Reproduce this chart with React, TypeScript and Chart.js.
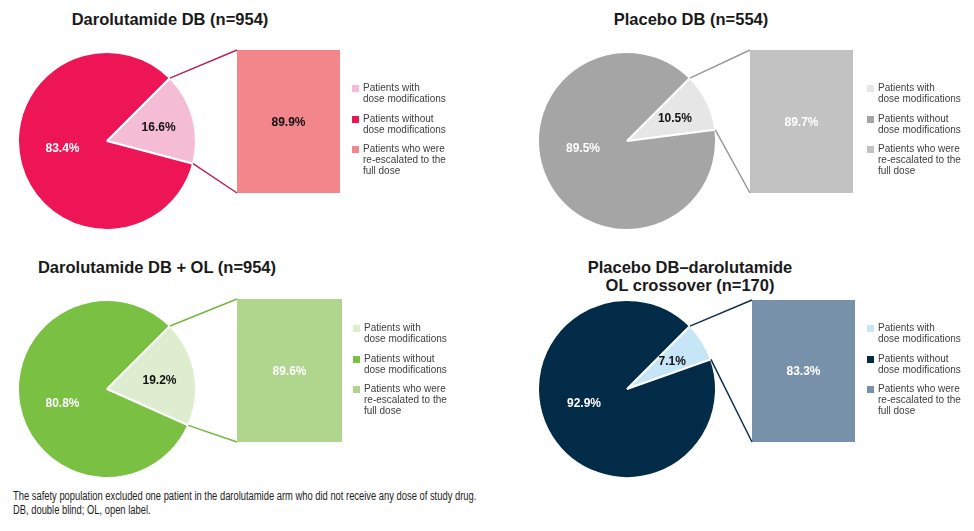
import React, { useEffect, useRef } from "react";
import { Chart, registerables } from "chart.js";

Chart.register(...registerables);

// ---------------- data ----------------
const panelTitles = [
  "Darolutamide DB (n=954)",
  "Placebo DB (n=554)",
  "Darolutamide DB + OL (n=954)",
  "Placebo DB\u2013darolutamide\nOL crossover (n=170)",
];
const withModifications = [16.6, 10.5, 19.2, 7.1];
const withoutModifications = [83.4, 89.5, 80.8, 92.9];
const reEscalated = [89.9, 89.7, 89.6, 83.3];
const legendLabels = [
  ["Patients with", "dose modifications"],
  ["Patients without", "dose modifications"],
  ["Patients who were", "re-escalated to the", "full dose"],
];
const footnotes = [
  "The safety population excluded one patient in the darolutamide arm who did not receive any dose of study drug.",
  "DB, double blind; OL, open label.",
];

// ---------------- styles ----------------
const palettes = [
  { main: "#EE1556", slice: "#F5BDD5", bar: "#F3868A", line: "#B82359", barText: "#111111" },
  { main: "#A5A5A5", slice: "#E6E6E6", bar: "#C2C2C2", line: "#9A9A9A", barText: "#FFFFFF" },
  { main: "#7AC143", slice: "#DEEDCF", bar: "#AFD68C", line: "#72B83F", barText: "#FFFFFF" },
  { main: "#012B47", slice: "#C6E6F7", bar: "#7891AB", line: "#0D3050", barText: "#FFFFFF" },
];

const layouts = [
  { cx: 107, cy: 141, barL: 237, barR: 340, barT: 50, barB: 193, legX: 352, legTop: 82, titleX: 170, titleTop: 10, mainOff: [-44.5, 11] },
  { cx: 627, cy: 141, barL: 750, barR: 853, barT: 50, barB: 193, legX: 867, legTop: 82, titleX: 691, titleTop: 10, mainOff: [-44, 11] },
  { cx: 107, cy: 389, barL: 237, barR: 342, barT: 299, barB: 442, legX: 353, legTop: 322, titleX: 157, titleTop: 258, mainOff: [-44.5, 18] },
  { cx: 627, cy: 389, barL: 752, barR: 855, barT: 300, barB: 442, legX: 867, legTop: 322, titleX: 690, titleTop: 258, mainOff: [-43, 18] },
];

const FONT = '"Liberation Sans", Arial, Helvetica, sans-serif';
const PIE_SIZE = 180;

function Panel({ i }: { i: number }) {
  const pieRef = useRef<HTMLCanvasElement | null>(null);
  const barRef = useRef<HTMLCanvasElement | null>(null);
  const L = layouts[i];
  const P = palettes[i];

  useEffect(() => {
    const pieLabels = {
      id: "pieLabels",
      afterDatasetsDraw(chart: any) {
        const ctx = chart.ctx;
        const meta = chart.getDatasetMeta(0);
        const s = meta.data[0];
        const m = meta.data[1];
        ctx.save();
        ctx.font = `bold 12px ${FONT}`;
        ctx.textAlign = "center";
        ctx.textBaseline = "alphabetic";
        const mid = (s.startAngle + s.endAngle) / 2;
        const r = s.outerRadius * 0.6;
        ctx.fillStyle = "#111111";
        ctx.fillText(
          `${withModifications[i].toFixed(1)}%`,
          s.x + Math.cos(mid) * r,
          s.y + Math.sin(mid) * r + 4.3
        );
        ctx.fillStyle = "#FFFFFF";
        ctx.fillText(`${withoutModifications[i].toFixed(1)}%`, m.x + L.mainOff[0], m.y + L.mainOff[1]);
        ctx.restore();
      },
    };

    const pie = new Chart(pieRef.current as HTMLCanvasElement, {
      type: "pie",
      data: {
        labels: [legendLabels[0].join(" "), legendLabels[1].join(" ")],
        datasets: [
          {
            data: [withModifications[i], withoutModifications[i]],
            backgroundColor: [P.slice, P.main],
            borderColor: "#FFFFFF",
            borderWidth: 2,
          },
        ],
      },
      options: {
        responsive: false,
        animation: false,
        rotation: 45,
        events: [],
        layout: { padding: 0 },
        plugins: { legend: { display: false }, tooltip: { enabled: false } },
      },
      plugins: [pieLabels],
    } as any);

    const pad = 2;
    const connectors = {
      id: "connectors",
      afterDatasetsDraw(chart: any) {
        const ctx = chart.ctx;
        const a = pie.getDatasetMeta(0).data[0] as any;
        const b = chart.getDatasetMeta(0).data[0] as any;
        // pie canvas origin -> bar canvas origin
        const ox = L.cx - PIE_SIZE / 2 - L.cx;
        const oy = L.cy - PIE_SIZE / 2 - (L.barT - pad);
        const R = a.outerRadius;
        const p1 = [a.x + Math.cos(a.startAngle) * R + ox, a.y + Math.sin(a.startAngle) * R + oy];
        const p2 = [a.x + Math.cos(a.endAngle) * R + ox, a.y + Math.sin(a.endAngle) * R + oy];
        const left = b.x - b.width / 2;
        const top = Math.min(b.y, b.base);
        const bottom = Math.max(b.y, b.base);
        ctx.save();
        ctx.strokeStyle = P.line;
        ctx.lineWidth = 1.5;
        ctx.beginPath();
        ctx.moveTo(p1[0], p1[1]);
        ctx.lineTo(left, top);
        ctx.moveTo(p2[0], p2[1]);
        ctx.lineTo(left, bottom);
        ctx.stroke();
        ctx.font = `bold 12px ${FONT}`;
        ctx.textAlign = "center";
        ctx.textBaseline = "alphabetic";
        ctx.fillStyle = P.barText;
        ctx.fillText(`${reEscalated[i].toFixed(1)}%`, b.x, (top + bottom) / 2 + 4.3);
        ctx.restore();
      },
    };

    const bar = new Chart(barRef.current as HTMLCanvasElement, {
      type: "bar",
      data: {
        labels: [legendLabels[2].join(" ")],
        datasets: [
          {
            data: [reEscalated[i]],
            backgroundColor: P.bar,
            borderWidth: 0,
            barPercentage: 1,
            categoryPercentage: 1,
          },
        ],
      },
      options: {
        responsive: false,
        animation: false,
        events: [],
        layout: { padding: { left: L.barL - L.cx, right: 0, top: pad, bottom: pad } },
        scales: {
          x: { display: false },
          y: { display: false, min: 0, max: reEscalated[i] },
        },
        plugins: { legend: { display: false }, tooltip: { enabled: false } },
      },
      plugins: [connectors],
    } as any);

    return () => {
      bar.destroy();
      pie.destroy();
    };
  }, [i]);

  const barW = L.barR - L.cx;
  const barH = L.barB - L.barT + 4;
  const colors = [P.slice, P.main, P.bar];

  return (
    <>
      <div
        style={{
          position: "absolute",
          left: L.titleX - 200,
          top: L.titleTop,
          width: 400,
          textAlign: "center",
          font: `bold 16.5px ${FONT}`,
          lineHeight: "18px",
          color: "#1a1a1a",
        }}
      >
        {panelTitles[i].split("\n").map((t, k) => (
          <div key={k}>{t}</div>
        ))}
      </div>
      <canvas
        ref={pieRef}
        width={PIE_SIZE}
        height={PIE_SIZE}
        style={{
          position: "absolute",
          left: L.cx - PIE_SIZE / 2,
          top: L.cy - PIE_SIZE / 2,
          width: PIE_SIZE,
          height: PIE_SIZE,
        }}
      />
      <canvas
        ref={barRef}
        width={barW}
        height={barH}
        style={{ position: "absolute", left: L.cx, top: L.barT - 2, width: barW, height: barH }}
      />
      <div
        style={{
          position: "absolute",
          left: L.legX,
          top: L.legTop,
          font: `10px ${FONT}`,
          lineHeight: "11px",
          color: "#404040",
          whiteSpace: "nowrap",
        }}
      >
        {legendLabels.map((lines, k) => (
          <div key={k} style={{ position: "relative", paddingLeft: 11, marginBottom: 8.5 }}>
            <span
              style={{
                position: "absolute",
                left: 0,
                top: 3,
                width: 7,
                height: 7,
                background: colors[k],
              }}
            />
            {lines.map((t, j) => (
              <div key={j}>{t}</div>
            ))}
          </div>
        ))}
      </div>
    </>
  );
}

export default function App() {
  return (
    <div
      style={{
        position: "absolute",
        left: 0,
        top: 0,
        width: 974,
        height: 531,
        background: "#FFFFFF",
        overflow: "hidden",
      }}
    >
      {[0, 1, 2, 3].map((i) => (
        <Panel key={i} i={i} />
      ))}
      <div
        style={{
          position: "absolute",
          left: 13,
          top: 488.5,
          font: `12.5px ${FONT}`,
          lineHeight: "14px",
          color: "#222222",
          whiteSpace: "nowrap",
          transform: "scaleX(0.75)",
          transformOrigin: "left top",
        }}
      >
        {footnotes.map((t, k) => (
          <div key={k}>{t}</div>
        ))}
      </div>
    </div>
  );
}
